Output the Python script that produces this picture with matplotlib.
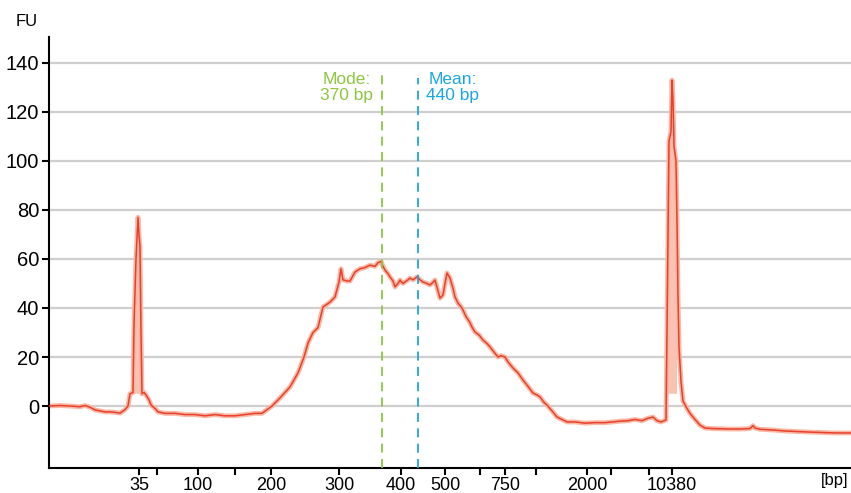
import matplotlib.pyplot as plt
import numpy as np

# migration position (arbitrary units) and fluorescence (FU)
pos = [49, 60, 70, 80, 85, 90, 95, 100, 105, 110, 115, 120, 125, 128, 130, 133, 134, 136, 138, 139,
       140, 141, 142, 144, 146, 149, 151, 155, 158, 165, 175, 185, 195, 205, 215, 225, 235, 245, 255,
       262, 267, 272, 280, 290, 298, 304, 308, 313, 318, 323, 330, 335, 339, 341, 343, 347, 350, 355,
       360, 365, 370, 375, 378, 381, 383, 385, 388, 390, 393, 395, 398, 400, 403, 405, 408, 410, 413,
       417, 420, 423, 427, 430, 433, 435, 438, 440, 443, 445, 447, 450, 453, 455, 458, 462, 466, 470,
       472, 475, 479, 483, 487, 490, 494, 498, 501, 505, 508, 513, 518, 523, 528, 533, 537, 540, 544,
       547, 552, 557, 562, 567, 575, 585, 595, 605, 613, 620, 628, 635, 642, 648, 653, 657, 661, 664,
       666, 667, 668, 669, 671, 672, 673, 674, 676, 677, 678, 679, 681, 683, 687, 690, 695, 700, 705,
       712, 720, 730, 740, 750, 753, 755, 760, 773, 785, 795, 807, 820, 835, 851]
fu = [0, 0.2, 0, -0.3, 0.2, -0.5, -1.6, -2, -2.4, -2.4, -2.6, -2.9, -1.5, 0, 5, 5.5, 33, 60, 77, 70,
      65, 30, 5, 5.5, 4.5, 2.5, 0.4, -1, -2.4, -3, -3, -3.5, -3.5, -4, -3.5, -4, -4, -3.5, -3,
      -3, -1.5, 0, 3.3, 7.8, 13.5, 20, 25.7, 30, 32, 40.4, 42.4, 44.5, 50.6, 56, 51.5, 51, 51, 54.7,
      56, 56.5, 57.5, 57, 58.5, 59, 57, 55.5, 54, 52.7, 51, 48.6, 50, 51.4, 50, 50.6, 51.5, 52.2, 51.5,
      52.7, 51.5, 50.6, 50, 49.4, 50.5, 51.4, 47, 44, 45.3, 50, 54.3, 52.2, 48, 44.5, 42, 40, 36.5, 34,
      32.2, 30.2, 29, 26.9, 25.5, 24.1, 22, 20, 20.5, 20, 18, 15.5, 13.5, 10.6, 8, 5.3, 4.5, 3.7, 1.5,
      0.4, -2, -4.5, -5.5, -6.5, -6.5, -7, -6.8, -6.8, -6.5, -6.2, -6, -5.5, -6, -5, -4.5, -6, -6.5, -6,
      -5.7, 30, 70, 108, 112, 133, 125, 106, 100, 75, 45, 24, 10, 2, -1, -3, -5.5, -7.8, -9,
      -9.2, -9.3, -9.4, -9.4, -9.2, -8, -9, -9.5, -9.8, -10.2, -10.4, -10.6, -10.8, -11, -11]

tick_pos = [139, 157, 198, 235, 271, 339, 401, 445, 480, 505, 536, 587, 611, 649, 672]
tick_lab = ['35', '', '100', '', '200', '300', '400', '500', '', '750', '', '2000', '', '', '10380']
marker_pos = [139, 672]

mode_pos, mean_pos = 382, 418
mode_txt = 'Mode:\n370 bp'
mean_txt = 'Mean:\n440 bp'

pos = np.array(pos)
fu = np.array(fu)

plt.rcParams['font.family'] = ['Liberation Sans', 'DejaVu Sans']

fig = plt.figure(figsize=(8.51, 4.93), dpi=100)
ax = fig.add_axes([49 / 851, 25 / 493, 802 / 851, 431 / 493])

for v in range(0, 141, 20):
    ax.axhline(v, color='#cfcfcf', lw=1.6, zorder=0)

# ladder marker peaks drawn filled
near = np.zeros(len(pos), bool)
for m in marker_pos:
    near |= np.abs(pos - m) <= 5
ax.fill_between(pos, fu, 5, where=near & (fu > 5), color='#f9c3b4', lw=0, zorder=1)

ax.plot(pos, fu, color='#f8b8a6', lw=3.5, solid_joinstyle='round', zorder=2)
ax.plot(pos, fu, color='#e8402a', lw=1.1, zorder=3)

ax.plot([mode_pos, mode_pos], [-25.3, 135], color='#8dc63f', lw=1.3, dashes=(5, 3.5), zorder=4)
ax.plot([mean_pos, mean_pos], [-25.3, 134], color='#1ca6e0', lw=1.3, dashes=(5, 3.5), zorder=4)
ax.text(mode_pos - 35, 136.5, mode_txt, color='#8dc63f', fontsize=12.5, ha='center', va='top',
        linespacing=1.15)
ax.text(mean_pos + 35, 136.5, mean_txt, color='#1ca6e0', fontsize=12.5, ha='center', va='top',
        linespacing=1.15)

ax.set_xlim(49, 851)
ax.set_ylim(-25.3, 150.6)
ax.set_yticks(range(0, 141, 20))
ax.set_xticks(tick_pos)
ax.set_xticklabels(tick_lab)
ax.tick_params(axis='y', labelsize=14.5, length=5, width=1.5, pad=2)
ax.tick_params(axis='x', labelsize=13, length=5, width=1.5, pad=1.5)
for s in ['top', 'right']:
    ax.spines[s].set_visible(False)
ax.spines['left'].set_linewidth(1.5)
ax.spines['bottom'].set_linewidth(1.5)

fig.text(27 / 851, 1 - 21 / 493, 'FU', fontsize=12, ha='center', va='center')
fig.text(835 / 851, 1 - 481 / 493, '[bp]', fontsize=12, ha='center', va='center')

plt.savefig('out.png', dpi=100)
